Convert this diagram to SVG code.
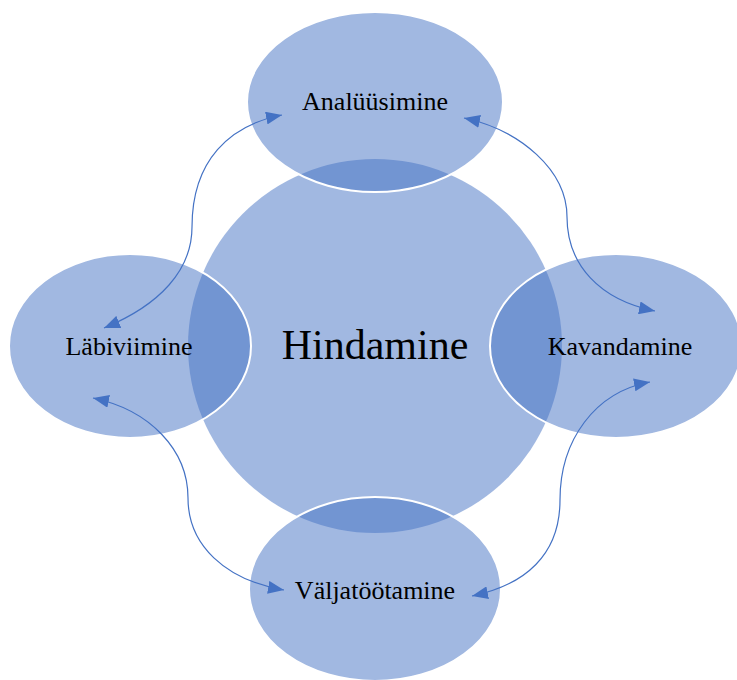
<svg xmlns="http://www.w3.org/2000/svg" width="737" height="680" viewBox="0 0 737 680">
<style>
.blob{fill:#4472C4;fill-opacity:0.5}
.sat{fill:#4472C4;fill-opacity:0.5;stroke:#FFFFFF;stroke-width:2}
.lbl{font-family:"Liberation Serif","Times New Roman",serif;font-size:26px;fill:#000;text-anchor:middle}
.big{font-family:"Liberation Serif","Times New Roman",serif;font-size:42px;fill:#000;text-anchor:middle}
.conn{fill:none;stroke:#4472C4;stroke-width:1.2}
</style>
<defs>
<marker id="ah" viewBox="0 0 16 13" refX="16" refY="6.5" markerWidth="16" markerHeight="13" markerUnits="userSpaceOnUse" orient="auto-start-reverse">
<path d="M0,0 L16,6.5 L0,13 Z" fill="#4472C4"/>
</marker>
</defs>
<rect width="737" height="680" fill="#FFFFFF"/>
<g id="hindamine">
<circle class="blob" cx="375" cy="346" r="187"/>
</g>
<g id="analuusimine">
<ellipse class="sat" cx="375" cy="102" rx="128" ry="90"/>
</g>
<g id="labiviimine">
<ellipse class="sat" cx="130" cy="346" rx="121" ry="92"/>
</g>
<g id="kavandamine">
<ellipse class="sat" cx="616" cy="346" rx="126" ry="92"/>
</g>
<g id="valjatootamine">
<ellipse class="sat" cx="375" cy="589" rx="126" ry="92"/>
</g>
<g id="connectors">
<path class="conn" marker-start="url(#ah)" marker-end="url(#ah)" d="M104,328 C160,305 192,270 192,227 C192,160 230,125 282,115"/>
<path class="conn" marker-start="url(#ah)" marker-end="url(#ah)" d="M464,118 C520,130 567,170 567,217 C567,265 600,300 655,311"/>
<path class="conn" marker-start="url(#ah)" marker-end="url(#ah)" d="M93,398 C150,410 188,450 188,498 C188,545 225,580 284,590"/>
<path class="conn" marker-start="url(#ah)" marker-end="url(#ah)" d="M650,382 C595,392 560,440 560,500 C560,555 525,585 472,596"/>
</g>
<g id="labels">
<text class="big" x="375" y="359">Hindamine</text>
<text class="lbl" x="375" y="110">Analüüsimine</text>
<text class="lbl" x="129" y="355">Läbiviimine</text>
<text class="lbl" x="620" y="355">Kavandamine</text>
<text class="lbl" x="375" y="599">Väljatöötamine</text>
</g>
</svg>
